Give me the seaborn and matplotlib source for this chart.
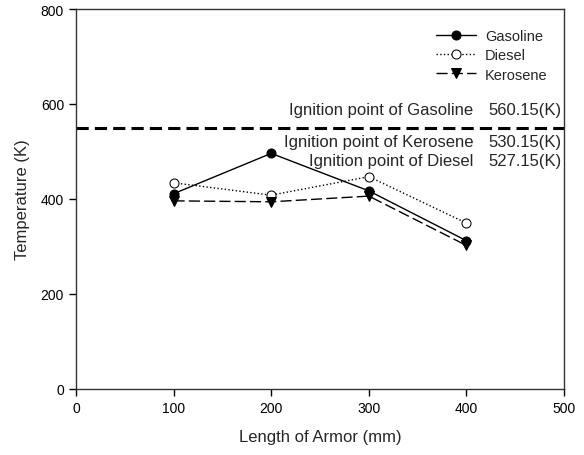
import matplotlib
matplotlib.use("Agg")
import matplotlib.pyplot as plt
import seaborn as sns
import pandas as pd

lengths = [100, 200, 300, 400]
gasoline = [411, 496, 417, 312]
diesel = [434, 408, 447, 349]
kerosene = [396, 394, 406, 302]
ignition_line = 550
ign_names = ["Ignition point of Gasoline", "Ignition point of Kerosene", "Ignition point of Diesel"]
ign_values = ["560.15(K)", "530.15(K)", "527.15(K)"]
ign_text_y = [589, 520, 482]

sns.set_theme(style="ticks")
plt.rcParams['font.family'] = ['Liberation Sans', 'DejaVu Sans']

df = pd.DataFrame({
    "Length": lengths * 3,
    "Temp": gasoline + diesel + kerosene,
    "Fuel": ["Gasoline"] * 4 + ["Diesel"] * 4 + ["Kerosene"] * 4,
})

fig = plt.figure(figsize=(5.84, 4.56), dpi=100)
ax = fig.add_axes([0.130, 0.145, 0.836, 0.833])

styles = {
    "Gasoline": dict(linestyle="-", marker="o", mfc="black"),
    "Diesel": dict(linestyle=":", marker="o", mfc="white"),
    "Kerosene": dict(linestyle=(0, (8, 3)), marker="v", mfc="black"),
}
for fuel in ["Gasoline", "Diesel", "Kerosene"]:
    sub = df[df["Fuel"] == fuel]
    st = styles[fuel]
    sns.lineplot(data=sub, x="Length", y="Temp", ax=ax, color="black",
                 linestyle=st["linestyle"], marker=st["marker"],
                 markerfacecolor=st["mfc"], markeredgecolor="black",
                 markersize=6.5, linewidth=1.0, label=fuel)

ax.axhline(ignition_line, color="black", linestyle=(0, (4, 2)), linewidth=2.2)

for name, val, y in zip(ign_names, ign_values, ign_text_y):
    ax.text(407, y, name, ha="right", va="center", fontsize=12)
    ax.text(497, y, val, ha="right", va="center", fontsize=12)

ax.set_xlim(0, 500)
ax.set_ylim(0, 800)
ax.set_xticks([0, 100, 200, 300, 400, 500])
ax.set_yticks([0, 200, 400, 600, 800])
ax.tick_params(direction="out", length=5, width=1, labelsize=10, colors="black")
for s in ax.spines.values():
    s.set_color("#333333")
    s.set_linewidth(1)
ax.set_xlabel("Length of Armor (mm)", fontsize=12, labelpad=10)
ax.set_ylabel("Temperature (K)", fontsize=12, labelpad=8)

leg = ax.legend(loc="upper right", bbox_to_anchor=(0.978, 0.962), borderaxespad=0,
                frameon=False, fontsize=10.5, handlelength=2.75, handletextpad=0.6,
                labelspacing=0.35)

fig.savefig("out.png", dpi=100)
